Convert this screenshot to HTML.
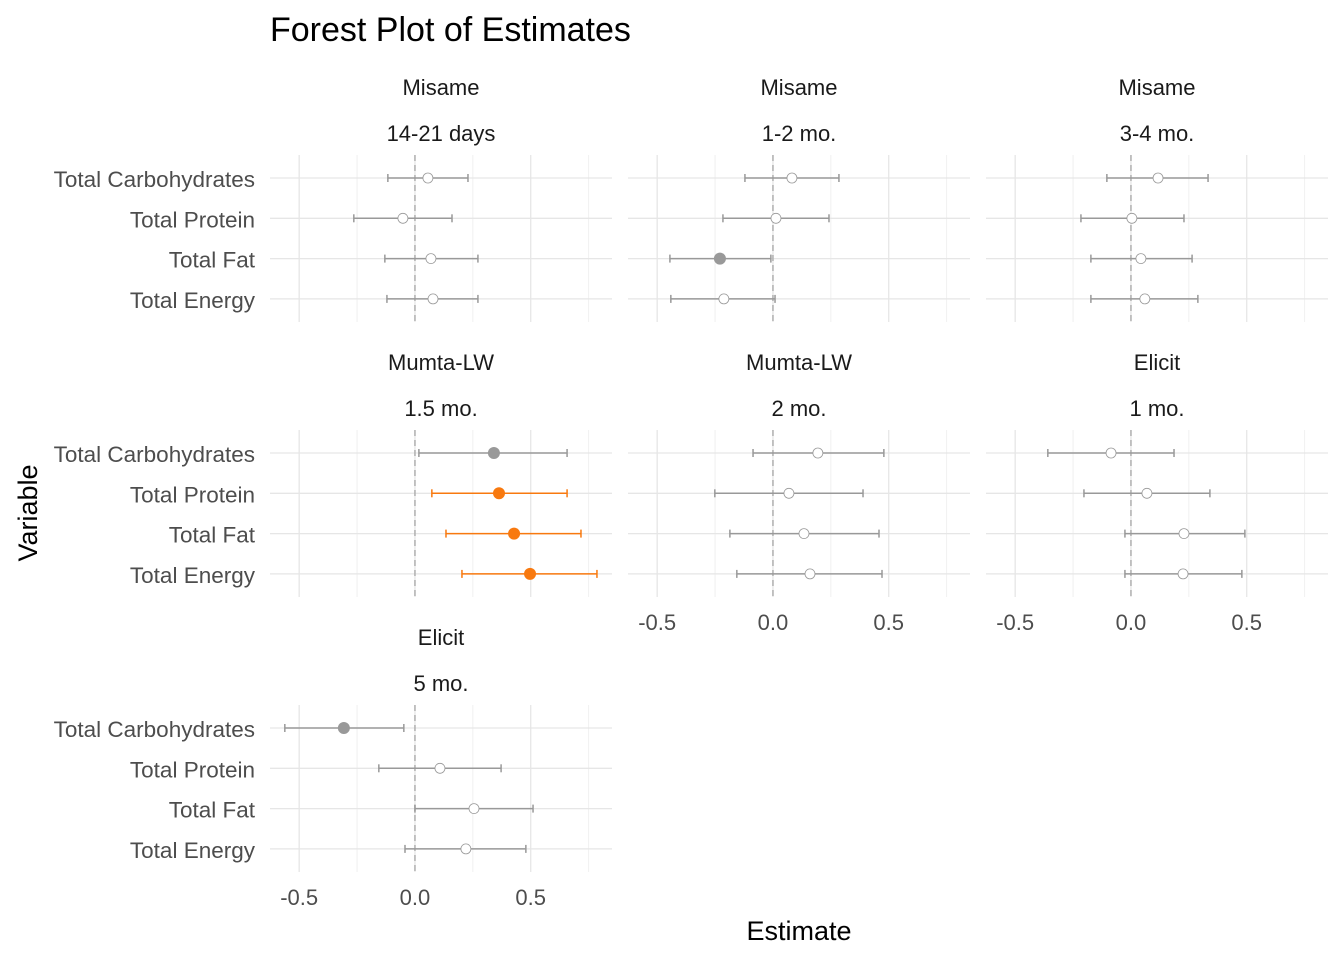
<!DOCTYPE html>
<html><head><meta charset="utf-8"><style>
body{margin:0;background:#fff;}
svg text{font-family:"Liberation Sans",Arial,sans-serif;}
</style></head><body>
<svg id="chart" width="1344" height="960" xmlns="http://www.w3.org/2000/svg">
<rect width="1344" height="960" fill="#fff"/>
<text x="270" y="41" font-size="34" fill="#000">Forest Plot of Estimates</text>
<text x="0" y="0" font-size="27" fill="#000" transform="translate(37,513) rotate(-90)" text-anchor="middle">Variable</text>
<text x="799" y="940" font-size="27" fill="#000" text-anchor="middle">Estimate</text>
</svg>
<script>
const variables = ["Total Carbohydrates","Total Protein","Total Fat","Total Energy"];
const studies = ["Misame","Misame","Misame","Mumta-LW","Mumta-LW","Elicit","Elicit"];
const timepoints = ["14-21 days","1-2 mo.","3-4 mo.","1.5 mo.","2 mo.","1 mo.","5 mo."];
const estimates = [
 [0.056,-0.052,0.069,0.078],
 [0.082,0.013,-0.229,-0.212],
 [0.117,0.004,0.043,0.060],
 [0.341,0.363,0.428,0.497],
 [0.194,0.069,0.134,0.160],
 [-0.086,0.069,0.229,0.225],
 [-0.307,0.108,0.255,0.220]
];
const lowers = [
 [-0.117,-0.264,-0.130,-0.121],
 [-0.121,-0.216,-0.445,-0.441],
 [-0.104,-0.216,-0.173,-0.173],
 [0.017,0.073,0.134,0.203],
 [-0.086,-0.251,-0.186,-0.156],
 [-0.359,-0.203,-0.026,-0.026],
 [-0.562,-0.156,0.000,-0.043]
];
const uppers = [
 [0.229,0.160,0.272,0.272],
 [0.285,0.242,-0.009,0.009],
 [0.333,0.229,0.264,0.289],
 [0.657,0.657,0.717,0.786],
 [0.479,0.389,0.458,0.471],
 [0.186,0.341,0.492,0.479],
 [-0.048,0.372,0.510,0.479]
];
// 0 = not significant (open), 1 = significant (gray filled), 2 = highlighted (orange)
const status = [
 [0,0,0,0],[0,0,1,0],[0,0,0,0],[1,2,2,2],[0,0,0,0],[0,0,0,0],[1,0,0,0]
];
const majorTicks = [-0.5,0,0.5];
const tickLabels = ["-0.5","0.0","0.5"];
const minorTicks = [-0.25,0.25,0.75];
const xMin = -0.626, xMax = 0.851;

const svg = document.getElementById('chart');
const NS = 'http://www.w3.org/2000/svg';
function mk(tag, attrs, parent){const e=document.createElementNS(NS,tag);for(const k in attrs)e.setAttribute(k,attrs[k]);(parent||svg).appendChild(e);return e;}

const colX=[270,628,986], pw=342;
const rowY=[155,430,705], ph=167;
const showAxis=[false,false,false,false,true,true,true];

for(let p=0;p<estimates.length;p++){
  const c=p%3, r=Math.floor(p/3);
  const x0=colX[c], y0=rowY[r];
  const sx=v=>x0+(v-xMin)/(xMax-xMin)*pw;
  const sy=i=>y0+23+i*40.3;
  const g=mk('g',{});
  
  
  const t1=mk('text',{x:x0+pw/2,y:y0-60,'font-size':22,'text-anchor':'middle',fill:'#1a1a1a'},g);
  t1.textContent=studies[p];
  
  
  const t2=mk('text',{x:x0+pw/2,y:y0-14,'font-size':22,'text-anchor':'middle',fill:'#1a1a1a'},g);
  t2.textContent=timepoints[p];
  
  
  minorTicks.forEach(v=>{const l=mk('line',{x1:sx(v),x2:sx(v),y1:y0,y2:y0+ph,stroke:'#f0f0f0','stroke-width':1},g);
    });
  majorTicks.forEach(v=>{const l=mk('line',{x1:sx(v),x2:sx(v),y1:y0,y2:y0+ph,stroke:'#e6e6e6','stroke-width':1.3},g);
    });
  variables.forEach((v,i)=>{const l=mk('line',{x1:x0,x2:x0+pw,y1:sy(i),y2:sy(i),stroke:'#e6e6e6','stroke-width':1.3},g);
    });
  const ref=mk('line',{x1:sx(0),x2:sx(0),y1:y0,y2:y0+ph,stroke:'#b0b0b0','stroke-width':1.5,'stroke-dasharray':'6,4'},g);
  
  if(c===0){
    variables.forEach((v,i)=>{const t=mk('text',{x:255,y:sy(i)+9,'font-size':22.5,'text-anchor':'end',fill:'#4d4d4d'},g);
      t.textContent=v;});
  }
  if(showAxis[p]){
    majorTicks.forEach((v,k)=>{const t=mk('text',{x:sx(v),y:y0+ph+33,'font-size':22,'text-anchor':'middle',fill:'#4d4d4d'},g);
      t.textContent=tickLabels[k];});
  }
  for(let i=0;i<variables.length;i++){
    const s=status[p][i];
    const col=s===2?'#F8790F':'#999999';
    const y=sy(i);
    const e=mk('g',{},g);
    
    
    mk('line',{x1:sx(lowers[p][i]),x2:sx(uppers[p][i]),y1:y,y2:y,stroke:col,'stroke-width':1.5},e);
    mk('line',{x1:sx(lowers[p][i]),x2:sx(lowers[p][i]),y1:y-4,y2:y+4,stroke:col,'stroke-width':1.5},e);
    mk('line',{x1:sx(uppers[p][i]),x2:sx(uppers[p][i]),y1:y-4,y2:y+4,stroke:col,'stroke-width':1.5},e);
    if(s===0) mk('circle',{cx:sx(estimates[p][i]),cy:y,r:5,fill:'#fff',stroke:'#999','stroke-width':0.8},e);
    else mk('circle',{cx:sx(estimates[p][i]),cy:y,r:6,fill:col},e);
  }
}
</script>
</body></html>
